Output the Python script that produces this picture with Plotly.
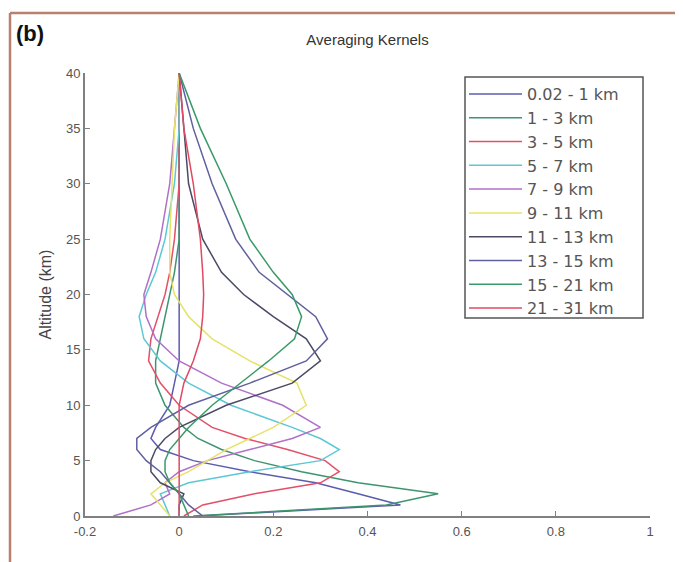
import plotly.graph_objects as go

altitude = [0, 1, 2, 3, 4, 5, 6, 7, 8, 10, 12, 14, 16, 18, 20, 22, 25, 30, 35, 40]

series_names = ["0.02 - 1 km", "1 - 3 km", "3 - 5 km", "5 - 7 km", "7 - 9 km",
                "9 - 11 km", "11 - 13 km", "13 - 15 km", "15 - 21 km", "21 - 31 km"]

k_0_1 = [0.04, 0.47, 0.38, 0.29, 0.15, 0.03, -0.04, -0.06, -0.05, -0.02, -0.01, 0.0, 0.0, 0.0, 0.0, 0.0, 0.0, 0.0, 0.0, 0.0]
k_1_3 = [0.03, 0.44, 0.55, 0.38, 0.26, 0.16, 0.09, 0.04, 0.01, -0.03, -0.05, -0.05, -0.04, -0.03, -0.02, -0.01, 0.0, 0.0, 0.0, 0.0]
k_3_5 = [0.01, 0.05, 0.16, 0.30, 0.34, 0.31, 0.23, 0.14, 0.07, 0.0, -0.04, -0.065, -0.06, -0.045, -0.03, -0.02, -0.01, 0.0, 0.0, 0.0]
k_5_7 = [-0.02, -0.03, -0.04, 0.02, 0.15, 0.30, 0.34, 0.30, 0.24, 0.11, 0.02, -0.04, -0.075, -0.085, -0.07, -0.05, -0.03, -0.01, 0.0, 0.0]
k_7_9 = [-0.14, -0.06, -0.02, -0.03, 0.0, 0.06, 0.15, 0.24, 0.30, 0.22, 0.09, 0.0, -0.05, -0.07, -0.075, -0.06, -0.04, -0.02, -0.01, 0.0]
k_9_11 = [-0.02, -0.04, -0.06, -0.03, 0.02, 0.06, 0.10, 0.15, 0.20, 0.27, 0.25, 0.15, 0.07, 0.02, -0.01, -0.02, -0.02, -0.015, -0.01, 0.0]
k_11_13 = [0.0, 0.0, 0.01, -0.04, -0.06, -0.06, -0.05, -0.03, 0.0, 0.10, 0.24, 0.30, 0.27, 0.20, 0.137, 0.09, 0.05, 0.02, 0.01, 0.0]
k_13_15 = [0.05, 0.02, 0.0, -0.02, -0.04, -0.07, -0.09, -0.09, -0.06, 0.02, 0.15, 0.27, 0.315, 0.29, 0.23, 0.17, 0.12, 0.07, 0.03, 0.0]
k_15_21 = [0.02, 0.01, 0.0, -0.02, -0.03, -0.03, -0.02, 0.0, 0.02, 0.07, 0.13, 0.19, 0.245, 0.26, 0.24, 0.20, 0.15, 0.10, 0.045, 0.0]
k_21_31 = [0.0, 0.0, 0.0, 0.0, 0.0, 0.0, 0.0, 0.0, 0.0, 0.0, 0.01, 0.03, 0.045, 0.05, 0.052, 0.05, 0.045, 0.03, 0.01, 0.0]

kernels = [k_0_1, k_1_3, k_3_5, k_5_7, k_7_9, k_9_11, k_11_13, k_13_15, k_15_21, k_21_31]
colors = ["#5c5cae", "#3f9470", "#e2506a", "#5cc8d4", "#b070c8",
          "#e6e26a", "#4a4a66", "#60609e", "#3a9a68", "#e04a62"]

x_ticks = [-0.2, 0, 0.2, 0.4, 0.6, 0.8, 1]
x_tick_text = ["-0.2", "0", "0.2", "0.4", "0.6", "0.8", "1"]
y_ticks = [0, 5, 10, 15, 20, 25, 30, 35, 40]

fig = go.Figure()
for name, vals, col in zip(series_names, kernels, colors):
    fig.add_trace(go.Scatter(x=vals, y=altitude, mode="lines", name=name,
                             line=dict(color=col, width=1.5)))

fig.update_layout(
    width=683, height=562,
    margin=dict(l=77, r=41, t=65, b=54),
    paper_bgcolor="white", plot_bgcolor="white",
    font=dict(family="Liberation Sans, Arial, sans-serif", color="#444444", size=12),
    title=dict(text="Averaging Kernels", x=0.5, xref="paper", xanchor="center",
               y=1 - 32 / 562, yanchor="middle",
               font=dict(size=15, color="#333333")),
    showlegend=True,
    legend=dict(x=(464 - 85) / 565, y=0.991, xanchor="left", yanchor="top",
                bgcolor="rgba(0,0,0,0)", borderwidth=0,
                font=dict(size=16, color="#555555",
                          family="DejaVu Sans, Liberation Sans, sans-serif"),
                itemwidth=53, tracegroupgap=0),
    xaxis=dict(range=[-0.2, 1], tickvals=x_ticks, ticktext=x_tick_text,
               showgrid=False, zeroline=False, showline=True,
               linecolor="#808080", linewidth=2, ticks="inside", ticklen=5,
               tickcolor="#808080", tickfont=dict(size=13, color="#555555"),
               ticklabelstandoff=2),
    yaxis=dict(range=[0, 40], tickvals=y_ticks, showgrid=False, zeroline=False,
               showline=True, linecolor="#808080", linewidth=2, ticks="inside",
               ticklen=5, tickcolor="#808080", tickfont=dict(size=13, color="#555555"),
               title=dict(text="Altitude (km)", font=dict(size=16, color="#444444"),
                          standoff=10)),
)

# legend frame
fig.add_shape(type="rect", xref="paper", yref="paper",
              x0=(465 - 85) / 565, x1=(643 - 85) / 565,
              y0=(516 - 318) / 443, y1=(516 - 77) / 443,
              line=dict(color="#555555", width=1.5), fillcolor="rgba(0,0,0,0)",
              layer="above")

fig.add_annotation(text="<b>(b)</b>", xref="paper", yref="paper",
                   x=(14 - 85) / 565, y=(516 - 33) / 443, xanchor="left",
                   yanchor="middle", showarrow=False,
                   font=dict(size=22, color="#111111", family="Liberation Sans, Arial"))

border_col = "#b8806e"
fig.add_shape(type="line", xref="paper", yref="paper",
              x0=(10 - 85) / 565, x1=(700 - 85) / 565,
              y0=(516 - 13) / 443, y1=(516 - 13) / 443,
              line=dict(color=border_col, width=2.5))
fig.add_shape(type="line", xref="paper", yref="paper",
              x0=(10 - 85) / 565, x1=(10 - 85) / 565,
              y0=(516 - 13) / 443, y1=(516 - 580) / 443,
              line=dict(color=border_col, width=2.5))

fig.write_html("out.html")
